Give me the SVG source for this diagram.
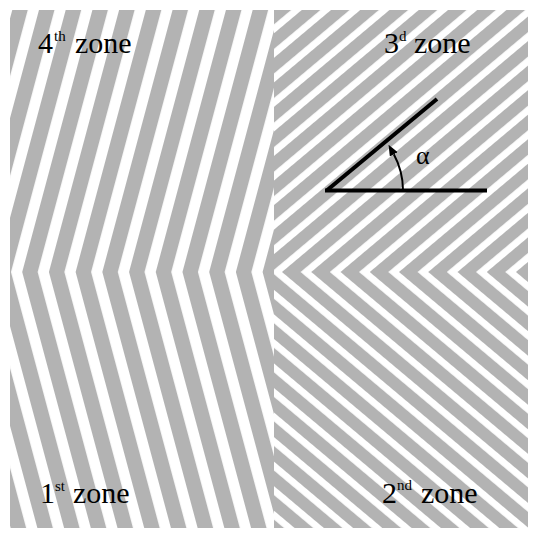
<svg xmlns="http://www.w3.org/2000/svg" width="533" height="538" viewBox="0 0 533 538">
<style>
.lbl{font-family:"Liberation Serif","Times New Roman",serif;font-size:30px;fill:#000}
.sup{font-family:"Liberation Serif","Times New Roman",serif;font-size:15px;fill:#000}
.ang{stroke:#000;stroke-width:4;fill:none;stroke-linecap:butt}
</style>
<defs>
<pattern id="pUL" patternUnits="userSpaceOnUse" width="25.8" height="10" patternTransform="translate(22.2,272) rotate(15)"><rect x="0" y="0" width="15" height="10" fill="#b3b3b3"/></pattern>
<pattern id="pLL" patternUnits="userSpaceOnUse" width="25.8" height="10" patternTransform="translate(22.2,272) rotate(-15)"><rect x="0" y="0" width="15" height="10" fill="#b3b3b3"/></pattern>
<pattern id="pUR" patternUnits="userSpaceOnUse" width="18.8" height="10" patternTransform="translate(282,272) rotate(50)"><rect x="0" y="0" width="12" height="10" fill="#b3b3b3"/></pattern>
<pattern id="pLR" patternUnits="userSpaceOnUse" width="18.8" height="10" patternTransform="translate(282,272) rotate(-50)"><rect x="0" y="0" width="12" height="10" fill="#b3b3b3"/></pattern>
<marker id="ah" markerUnits="userSpaceOnUse" markerWidth="11" markerHeight="10" refX="0" refY="4.5" orient="auto"><path d="M0,0 L11,4.5 L0,9 z" fill="#000"/></marker>
</defs>
<rect width="533" height="538" fill="#fff"/>
<g id="zone4"><rect x="10" y="10" width="264" height="262" fill="url(#pUL)"/></g>
<g id="zone1"><rect x="10" y="272" width="264" height="256" fill="url(#pLL)"/></g>
<g id="zone3"><rect x="274" y="10" width="254" height="262" fill="url(#pUR)"/></g>
<g id="zone2"><rect x="274" y="272" width="254" height="256" fill="url(#pLR)"/></g>
<g id="angle">
<line class="ang" x1="325" y1="190.5" x2="487" y2="190.5"/>
<line class="ang" x1="326.7" y1="190.5" x2="437" y2="99"/>
<path d="M403,190 A76,76 0 0 0 393.8,154.3" fill="none" stroke="#000" stroke-width="2" marker-end="url(#ah)"/>
</g>
<g id="labels">
<text class="lbl" x="38" y="53">4</text><text class="sup" x="54" y="41">th</text><text class="lbl" x="75" y="53">zone</text>
<text class="lbl" x="384" y="53">3</text><text class="sup" x="399" y="41">d</text><text class="lbl" x="414" y="53">zone</text>
<text class="lbl" x="40" y="503">1</text><text class="sup" x="55" y="491">st</text><text class="lbl" x="73" y="503">zone</text>
<text class="lbl" x="382" y="503">2</text><text class="sup" x="397" y="490">nd</text><text class="lbl" x="421" y="503">zone</text>
<text x="416" y="164" style="font-size:26px;font-family:'Liberation Serif','Times New Roman',serif">α</text>
</g>
</svg>
